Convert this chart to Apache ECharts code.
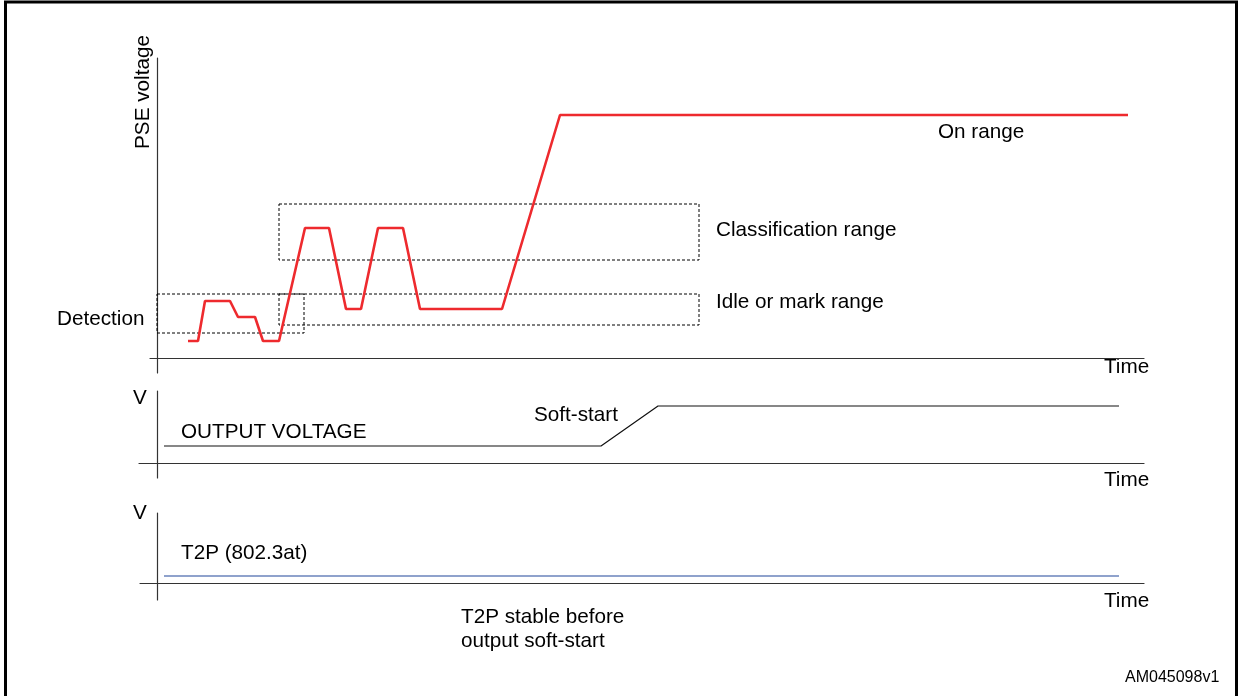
<!DOCTYPE html>
<html>
<head>
<meta charset="utf-8">
<title>PSE voltage timing</title>
<script src="https://cdn.jsdelivr.net/npm/echarts@6/dist/echarts.min.js"></script>
<style>
  html, body { margin: 0; padding: 0; background: #fff; }
  #chart { width: 1242px; height: 696px; }
</style>
</head>
<body>
<div id="chart"></div>
<script>
// PSE voltage trace (time, level)
var pseVoltage = [
    [31, 17], [41, 17], [48, 57], [73, 57], [81, 41], [98, 41], [106, 17], [122, 17],
    [148, 130], [172, 130], [189, 49], [204, 49], [221, 130], [246, 130], [263, 49],
    [345, 49], [403, 243], [971, 243]
];
// output voltage with soft-start
var outputVoltage = [[7, 17], [444, 17], [501, 57], [962, 57]];
// T2P signal
var t2pSignal = [[7, 7], [962, 7]];

// dashed ranges: [tStart, tEnd, low, high]
var detectionRange = [0, 147, 25, 64];
var idleRange = [122, 542, 33, 64];
var classRange = [122, 542, 98, 154];

var FONT = '20.7px "Liberation Sans", Arial, sans-serif';
var axisColor = '#333';

function rangeArea(r) {
    return [{ xAxis: r[0], yAxis: r[3] }, { xAxis: r[1], yAxis: r[2] }];
}

function xAx(idx, min) {
    return {
        type: 'value', gridIndex: idx, min: min, max: 987,
        axisLine: { show: true, onZero: true, lineStyle: { color: axisColor, width: 1.2 } },
        axisTick: { show: false }, axisLabel: { show: false }, splitLine: { show: false }
    };
}
function yAx(idx, min, max) {
    return {
        type: 'value', gridIndex: idx, min: min, max: max,
        axisLine: { show: true, onZero: true, lineStyle: { color: axisColor, width: 1.2 } },
        axisTick: { show: false }, axisLabel: { show: false }, splitLine: { show: false }
    };
}
function txt(s, x, y, opts) {
    opts = opts || {};
    return {
        type: 'text', x: x, y: y, rotation: opts.rotation || 0, silent: true,
        style: {
            text: s, fill: '#000', font: opts.font || FONT,
            textAlign: opts.align || 'left', textVerticalAlign: 'middle'
        }
    };
}

var chart = echarts.init(document.getElementById('chart'));
chart.setOption({
    animation: false,
    backgroundColor: '#fff',
    grid: [
        { left: 150, width: 994, top: 58, height: 315 },
        { left: 139, width: 1005, top: 391, height: 87 },
        { left: 140, width: 1004, top: 513, height: 87 }
    ],
    xAxis: [xAx(0, -7), xAx(1, -18), xAx(2, -17)],
    yAxis: [yAx(0, -15, 300), yAx(1, -15, 72), yAx(2, -17, 70)],
    series: [
        {
            type: 'line', xAxisIndex: 0, yAxisIndex: 0, data: pseVoltage,
            showSymbol: false, lineStyle: { color: '#ee2a2e', width: 2.6 },
            markArea: {
                silent: true,
                itemStyle: { color: 'rgba(0,0,0,0)', borderColor: '#000', borderWidth: 1, borderType: [3, 2] },
                data: [rangeArea(detectionRange), rangeArea(idleRange), rangeArea(classRange)]
            },
            z: 3
        },
        {
            type: 'line', xAxisIndex: 1, yAxisIndex: 1, data: outputVoltage,
            showSymbol: false, lineStyle: { color: '#111', width: 1.2 }
        },
        {
            type: 'line', xAxisIndex: 2, yAxisIndex: 2, data: t2pSignal,
            showSymbol: false, lineStyle: { color: '#8fa2cc', width: 2 }
        }
    ],
    graphic: [
        {
            type: 'rect', silent: true,
            shape: { x: 5.5, y: 2, width: 1231, height: 720 },
            style: { fill: 'none', stroke: '#000', lineWidth: 3 }
        },
        txt('PSE voltage', 143, 92, { rotation: Math.PI / 2, align: 'center' }),
        txt('On range', 938, 132),
        txt('Classification range', 716, 230),
        txt('Idle or mark range', 716, 302),
        txt('Detection', 57, 319),
        txt('Time', 1104, 367),
        txt('V', 133, 398),
        txt('Soft-start', 534, 415),
        txt('OUTPUT VOLTAGE', 181, 432),
        txt('Time', 1104, 480),
        txt('V', 133, 513),
        txt('T2P (802.3at)', 181, 553),
        txt('Time', 1104, 601),
        txt('T2P stable before', 461, 617),
        txt('output soft-start', 461, 641),
        txt('AM045098v1', 1125, 678, { font: '16px "Liberation Sans", Arial, sans-serif' })
    ]
});
</script>
</body>
</html>
